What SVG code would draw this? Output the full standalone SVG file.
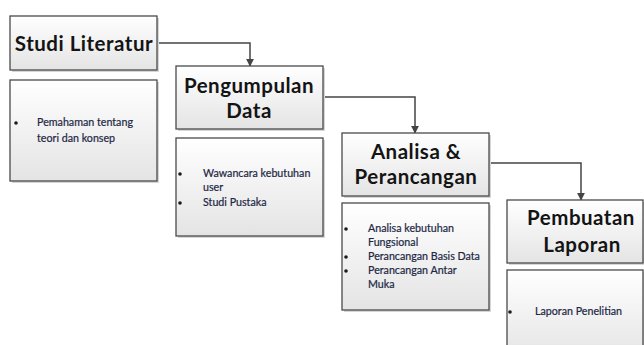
<svg xmlns="http://www.w3.org/2000/svg" width="644" height="345" viewBox="0 0 644 345">
  <defs>
    <linearGradient id="boxFill" x1="0" y1="0" x2="0" y2="1">
      <stop offset="0" stop-color="#ffffff"/>
      <stop offset="1" stop-color="#e4e4e4"/>
    </linearGradient>
    <marker id="arrow" viewBox="0 0 10 10" refX="9" refY="5" markerWidth="8" markerHeight="8" markerUnits="userSpaceOnUse" orient="auto">
      <path d="M0,0 L10,5 L0,10 Z" fill="#444"/>
    </marker>
  </defs>
  <style>
    .shadow { fill: #d6d6d6; }
    .box { fill: url(#boxFill); stroke: #4a4a4a; stroke-width: 1.3; }
    .title { font-family: Lato, "Open Sans", "DejaVu Sans", sans-serif; font-weight: 700; font-size: 20.5px; letter-spacing: 0.5px; fill: #141414; text-anchor: middle; }
    .item { font-family: Lato, "Open Sans", "DejaVu Sans", sans-serif; font-size: 10.7px; fill: #1c2744; stroke: #1c2744; stroke-width: 0.2; }
    .bullet { fill: #1a1a1a; }
    .link { fill: none; stroke: #444; stroke-width: 1.5; marker-end: url(#arrow); }
  </style>

  <rect width="644" height="345" fill="#ffffff"/>

  <!-- Connectors -->
  <g id="connectors">
    <path class="link" d="M157,43 H250 V66"/>
    <path class="link" d="M323,97 H415 V133"/>
    <path class="link" d="M489,163 H581 V200"/>
  </g>

  <!-- Step 1 -->
  <g id="studi-literatur">
    <rect class="shadow" x="12" y="18" width="147" height="54"/>
    <rect class="box" x="10" y="16" width="147" height="54"/>
    <text class="title" x="84" y="51">Studi Literatur</text>
  </g>
  <g id="studi-literatur-detail">
    <rect class="shadow" x="12" y="82" width="147" height="101"/>
    <rect class="box" x="10" y="80" width="147" height="101"/>
    <circle class="bullet" cx="16" cy="123" r="1.8"/>
    <text class="item" x="37" y="126">Pemahaman tentang</text>
    <text class="item" x="37" y="142">teori dan konsep</text>
  </g>

  <!-- Step 2 -->
  <g id="pengumpulan-data">
    <rect class="shadow" x="178" y="68" width="147" height="63"/>
    <rect class="box" x="176" y="66" width="147" height="63"/>
    <text class="title" x="249" y="93">Pengumpulan</text>
    <text class="title" x="249" y="118">Data</text>
  </g>
  <g id="pengumpulan-data-detail">
    <rect class="shadow" x="178" y="140" width="147" height="98"/>
    <rect class="box" x="176" y="138" width="147" height="98"/>
    <circle class="bullet" cx="180" cy="174" r="1.8"/>
    <text class="item" x="203" y="177">Wawancara kebutuhan</text>
    <text class="item" x="203" y="191">user</text>
    <circle class="bullet" cx="180" cy="203" r="1.8"/>
    <text class="item" x="203" y="206">Studi Pustaka</text>
  </g>

  <!-- Step 3 -->
  <g id="analisa-perancangan">
    <rect class="shadow" x="344" y="135" width="147" height="63"/>
    <rect class="box" x="342" y="133" width="147" height="63"/>
    <text class="title" x="416" y="159">Analisa &amp;</text>
    <text class="title" x="416" y="184">Perancangan</text>
  </g>
  <g id="analisa-perancangan-detail">
    <rect class="shadow" x="344" y="205" width="147" height="107"/>
    <rect class="box" x="342" y="203" width="147" height="107"/>
    <circle class="bullet" cx="346" cy="229" r="1.8"/>
    <text class="item" x="368" y="232">Analisa kebutuhan</text>
    <text class="item" x="368" y="246">Fungsional</text>
    <circle class="bullet" cx="346" cy="257" r="1.8"/>
    <text class="item" x="368" y="260">Perancangan Basis Data</text>
    <circle class="bullet" cx="346" cy="271" r="1.8"/>
    <text class="item" x="368" y="274">Perancangan Antar</text>
    <text class="item" x="368" y="288">Muka</text>
  </g>

  <!-- Step 4 -->
  <g id="pembuatan-laporan">
    <rect class="shadow" x="509" y="202" width="147" height="63"/>
    <rect class="box" x="507" y="200" width="136" height="63"/>
    <text class="title" x="581" y="225">Pembuatan</text>
    <text class="title" x="582" y="252">Laporan</text>
  </g>
  <g id="pembuatan-laporan-detail">
    <rect class="shadow" x="509" y="272" width="147" height="90"/>
    <rect class="box" x="507" y="270" width="136" height="90"/>
    <circle class="bullet" cx="510" cy="312" r="1.8"/>
    <text class="item" x="535" y="315">Laporan Penelitian</text>
  </g>
</svg>
